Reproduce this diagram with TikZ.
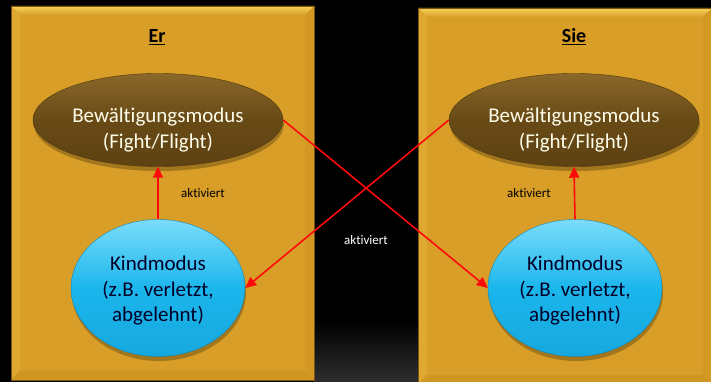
\documentclass[tikz,border=0pt]{standalone}
\usepackage{fontspec}
\setmainfont{Carlito}[RawFeature=-liga]
\usetikzlibrary{shapes.geometric,arrows.meta}
\definecolor{boxgold}{HTML}{D99E28}
\definecolor{bevtop}{HTML}{F6D257}
\definecolor{bevleft}{HTML}{DFA831}
\definecolor{bevright}{HTML}{D29823}
\definecolor{bevbot}{HTML}{D09622}
\definecolor{boxedge}{HTML}{7A5410}
\definecolor{brownhi}{HTML}{8A682A}
\definecolor{brownmid}{HTML}{684A16}
\definecolor{brownlo}{HTML}{5E4212}
\definecolor{bluehi}{HTML}{7ADCFA}
\definecolor{bluemid}{HTML}{1BB6EC}
\definecolor{bluelo}{HTML}{16A8DE}
\definecolor{arrowred}{HTML}{FF0A0A}
\tikzset{
  x=1pt, y=-1pt,
  coping/.style={ellipse, inner sep=0pt, minimum width=250pt, minimum height=93pt,
    top color=brownhi, bottom color=brownlo, middle color=brownmid,
    draw=brownlo!80!black, line width=0.4pt},
  copingtext/.style={text=white!92!yellow, font=\fontsize{21}{26}\selectfont,
    align=center, inner sep=0pt},
  child/.style={ellipse, inner sep=0pt, minimum width=174pt, minimum height=137pt,
    top color=bluehi, bottom color=bluelo, middle color=bluemid,
    draw=bluelo!80!black, line width=0.4pt},
  childtext/.style={text=black!85!blue, font=\fontsize{21}{25.5}\selectfont,
    align=center, inner sep=0pt},
  heading/.style={font=\fontsize{20}{24}\selectfont\bfseries, text=black},
  small/.style={font=\fontsize{13}{15}\selectfont},
  activate/.style={draw=arrowred, line width=1.6pt,
    -{Triangle[length=11pt,width=10pt]}},
  shadowfill/.style={fill=black, opacity=0.25},
}
% bevelled golden panel: outer corners (#1,#2)-(#3,#4), bevel width #5
\newcommand{\bevelpanel}[5]{%
  \fill[boxgold] (#1,#2) rectangle (#3,#4);
  \shade[top color=bevtop, bottom color=boxgold]
    (#1,#2) -- (#3,#2) -- (#3-#5,#2+#5) -- (#1+#5,#2+#5) -- cycle;
  \fill[bevleft] (#1,#2+0.6) -- (#1+#5,#2+#5) -- (#1+#5,#4-#5) -- (#1,#4) -- cycle;
  \fill[bevright] (#3,#2+0.6) -- (#3,#4) -- (#3-#5,#4-#5) -- (#3-#5,#2+#5) -- cycle;
  \fill[bevbot] (#1,#4) -- (#3,#4) -- (#3-#5,#4-#5) -- (#1+#5,#4-#5) -- cycle;
  \draw[boxedge, line width=0.8pt] (#1,#2) rectangle (#3,#4);
}
\begin{document}
\begin{tikzpicture}
  % backdrop
  \fill[black] (0,0) rectangle (711,382);
  \shade[top color=black, bottom color=black!82!white] (314,320) rectangle (418,382);
  \useasboundingbox (0,0) rectangle (711,382);

  % the two panels
  \bevelpanel{11}{6}{314}{380}{9}
  \bevelpanel{418}{8}{712}{384}{9}

  \node[heading] (erT) at (157,37) {\underline{Er}};
  \node[heading] (sieT) at (574,37) {\underline{Sie}};

  % soft shadows under the ellipses
  \fill[shadowfill] (159,124) ellipse [x radius=125, y radius=47];
  \fill[shadowfill] (575,124) ellipse [x radius=125, y radius=47];
  \fill[shadowfill] (159,292) ellipse [x radius=87, y radius=69];
  \fill[shadowfill] (576,292) ellipse [x radius=87, y radius=69];

  % modes
  \node[coping] (erB) at (158,120) {};
  \node[coping] (sieB) at (574,120) {};
  \node[child] (erK) at (158,288) {};
  \node[child] (sieK) at (575,288) {};
  \node[copingtext] (erBt) at (158,130) {Bewältigungsmodus\\(Fight/Flight)};
  \node[copingtext] (sieBt) at (574,130) {Bewältigungsmodus\\(Fight/Flight)};
  \node[childtext] (erKt) at (158,291) {Kindmodus\\(z.B. verletzt,\\abgelehnt)};
  \node[childtext] (sieKt) at (575,291) {Kindmodus\\(z.B. verletzt,\\abgelehnt)};

  % activation links
  \draw[activate] (erK.north) -- (erB.south);
  \draw[activate] (sieK.north) -- (sieB.south);
  \draw[activate] (erB.east) -- (sieK.west);
  \draw[activate] (sieB.west) -- (erK.east);

  \node[small, text=black] (erA) at (203,193) {aktiviert};
  \node[small, text=black] (sieA) at (529,193) {aktiviert};
  \node[small, text=white] (midA) at (366,240) {aktiviert};
\end{tikzpicture}
\end{document}
